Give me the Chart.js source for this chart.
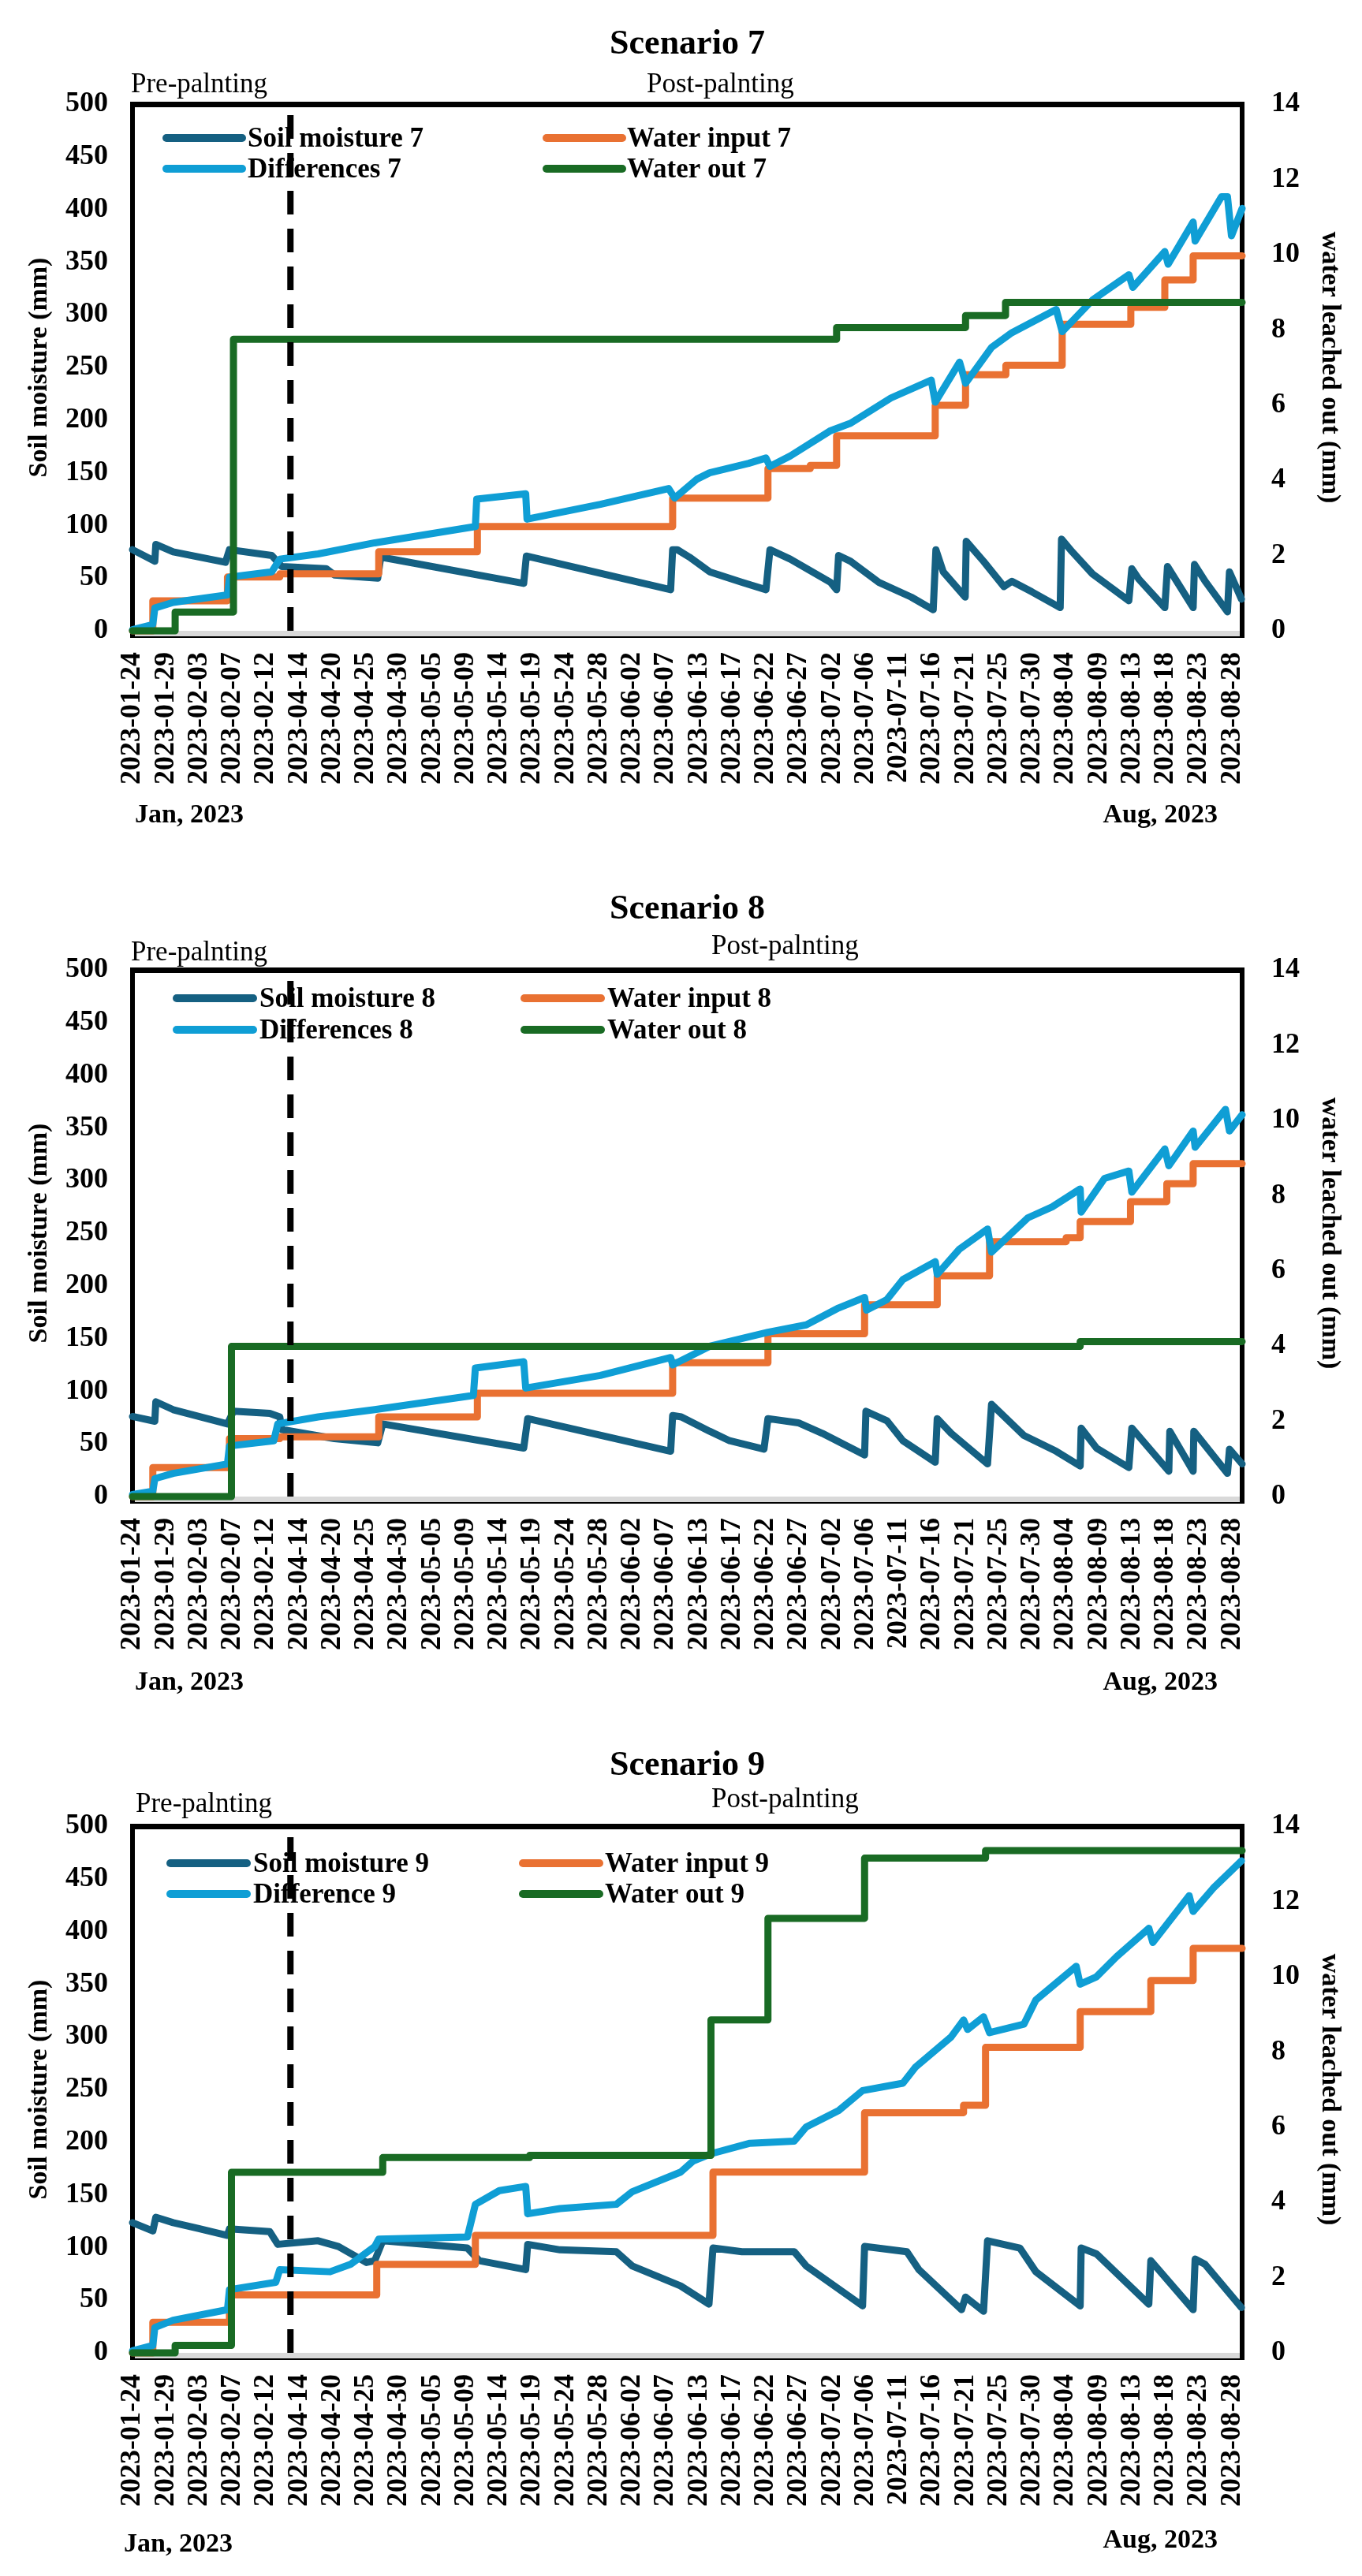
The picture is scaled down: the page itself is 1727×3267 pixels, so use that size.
<!DOCTYPE html>
<html>
<head>
<meta charset="utf-8">
<script src="https://cdn.jsdelivr.net/npm/chart.js@4.4.1/dist/chart.umd.min.js"></script>
<style>
  html, body { margin: 0; padding: 0; background: #fff; }
  .box { width: 1727px; position: relative; }
</style>
</head>
<body>
<div class="box" style="height:1092px"><canvas id="c7"></canvas></div>
<div class="box" style="height:1088px"><canvas id="c8"></canvas></div>
<div class="box" style="height:1087px"><canvas id="c9"></canvas></div>
<script>
// x values are positions on the date axis, in label steps (0 = 2023-01-24)
const dateLabels = ["2023-01-24","2023-01-29","2023-02-03","2023-02-07","2023-02-12",
  "2023-04-14","2023-04-20","2023-04-25","2023-04-30","2023-05-05","2023-05-09","2023-05-14",
  "2023-05-19","2023-05-24","2023-05-28","2023-06-02","2023-06-07","2023-06-13","2023-06-17",
  "2023-06-22","2023-06-27","2023-07-02","2023-07-06","2023-07-11","2023-07-16","2023-07-21",
  "2023-07-25","2023-07-30","2023-08-04","2023-08-09","2023-08-13","2023-08-18","2023-08-23",
  "2023-08-28"];
const xEnd = 33.3;
const plantingX = 4.74;
const leftTicks = [0, 500, 50];
const rightTicks = [0, 14, 2];

// Scenario 7
const soil7 = [[0,77],[0.67,66],[0.70,82],[1.22,75],[2.79,65],[2.91,77],[4.18,71.5],[4.48,61],[5.81,59],[6.06,53],[7.36,50],[7.45,70],[11.74,45],[11.82,71],[16.15,39],[16.21,77],[16.35,77],[16.71,70],[17.32,56],[18.29,46],[19.01,39],[19.13,77],[19.74,68],[20.95,46],[21.13,39],[21.19,71.5],[21.55,66],[22.40,46],[23.37,32],[24.03,20],[24.11,77],[24.33,56],[24.99,32],[25.02,85],[25.54,66],[26.15,42],[26.39,47],[26.99,37],[27.84,22],[27.88,87],[28.20,75],[28.81,54],[29.9,28.5],[29.99,59],[30.2,49],[30.98,22],[31.06,61],[31.83,22],[31.87,63],[32.19,47],[32.86,18],[32.92,56],[33.28,30]];
const input7 = [[0,0],[0.61,28.5],[2.85,51],[4.42,54],[7.39,75],[10.35,99],[16.21,126],[19.07,154],[20.34,157],[21.13,185],[24.09,214],[25.0,243],[26.21,252],[27.9,291],[29.96,307],[30.98,333],[31.83,356],[33.3,356]];
const diff7 = [[0,1],[0.61,6],[0.67,21.6],[1.22,27],[2.85,34],[2.91,51],[4.18,56],[4.42,68],[5.57,73],[7.27,83.5],[10.29,99],[10.33,125],[11.8,130],[11.84,106],[14.04,120],[16.09,135],[16.27,126],[16.94,144],[17.32,150],[18.49,159],[19.01,164],[19.13,156],[19.74,166],[20.95,190],[21.55,197],[22.76,221],[23.97,238],[24.09,217],[24.82,255],[25.0,235],[25.78,269],[26.39,283],[27.72,305],[27.9,284],[28.81,314],[29.9,338],[30.02,326],[30.98,360],[31.08,348],[31.83,388],[31.89,370],[32.68,412],[32.86,412],[32.98,375],[33.3,401]];
const out7 = [[0,0],[1.28,0.5],[3.03,7.75],[21.13,8.06],[25.0,8.38],[26.2,8.73],[33.3,8.73]];

// Scenario 8
const soil8 = [[0,76],[0.67,71.5],[0.70,90],[1.22,82.5],[2.85,69],[3.03,81],[4.12,79],[4.42,75.6],[4.48,63.6],[6.06,55],[7.36,51],[7.51,69],[11.74,46],[11.86,74],[16.15,43],[16.21,77],[16.47,75.6],[17.32,62],[17.92,53],[18.95,45],[19.07,74],[19.98,70],[20.7,60],[21.97,39.5],[22.01,81],[22.64,72],[23.12,53],[24.09,32.6],[24.15,74],[24.57,60],[25.66,31],[25.78,87.6],[26.75,58],[27.72,43],[28.44,29],[28.47,65],[28.93,46],[29.9,27.5],[29.99,65],[31.1,24],[31.13,62],[31.83,24],[31.85,62],[32.86,22],[32.92,45],[33.3,31]];
const input8 = [[0,0],[0.61,27.5],[2.91,55],[4.42,56.7],[7.39,75.6],[10.35,98],[16.21,127],[19.07,154.6],[21.97,182],[24.15,209.6],[25.72,242],[28.02,245.7],[28.44,261],[29.95,280],[31.04,297],[31.83,316],[33.3,316]];
const diff8 = [[0,2],[0.61,5],[0.67,17],[1.22,22],[2.85,31],[2.91,48],[4.24,53],[4.36,69],[5.57,75.6],[7.27,82.5],[10.23,96],[10.29,122],[11.74,128],[11.80,103],[14.04,115],[16.15,132],[16.21,125],[17.32,142.6],[19.07,156],[20.22,163],[21.19,179],[21.97,189],[22.03,177],[22.64,187],[23.12,206],[24.09,223],[24.15,211],[24.82,235],[25.66,254],[25.78,232],[26.87,264.6],[27.6,275],[28.44,292],[28.47,270],[29.17,302],[29.9,309],[29.99,289],[30.98,330],[31.1,314],[31.83,347],[31.89,331.6],[32.8,367.6],[32.92,347],[33.3,362.5]];
const out8 = [[0,0],[2.97,3.99],[28.44,4.12],[33.3,4.12]];

// Scenario 9
const soil9 = [[0,123.6],[0.61,115.7],[0.70,128.7],[1.22,123.6],[1.94,118.4],[2.85,111.5],[2.91,117.7],[4.12,115],[4.36,103],[5.57,106.4],[6.18,101],[7.02,85.8],[7.27,87.5],[7.51,106.4],[10.05,99.5],[10.41,87.5],[11.8,79],[11.86,103],[12.83,97.8],[14.52,96],[15.0,82.4],[16.45,63.5],[17.3,46.3],[17.42,99.5],[18.29,96],[19.86,96],[20.22,82.4],[21.91,44.6],[21.97,101],[23.24,96],[23.6,79],[24.88,41],[25.0,53],[25.54,39.5],[25.66,106.4],[26.63,99.5],[27.11,77],[28.44,44.6],[28.47,99.5],[28.93,94],[30.5,46.3],[30.56,87.5],[31.83,41],[31.89,89],[32.19,84],[33.28,43]];
const input9 = [[0,0],[0.61,29],[2.91,55],[7.33,84],[10.29,111.5],[17.42,171.6],[21.97,228],[24.94,235],[25.6,290],[28.44,324],[30.56,353.5],[31.83,384],[33.3,384]];
const diff9 = [[0,2],[0.61,7],[0.67,24],[1.22,31],[2.85,41],[2.91,60],[4.3,67],[4.42,79],[5.93,77],[6.54,84],[7.27,101],[7.39,108],[10.05,110],[10.29,141],[11.01,154],[11.8,158],[11.86,132],[12.83,137],[14.52,141],[15.0,153],[16.45,171.6],[16.82,182],[17.36,189],[18.53,199],[19.86,201],[20.22,214.5],[21.19,230],[21.91,249],[23.12,256],[23.49,271],[24.57,300],[24.94,316],[25.06,307],[25.54,319],[25.72,304],[26.75,312],[27.11,335],[28.32,367],[28.44,350],[28.93,357],[29.53,376],[30.5,403],[30.62,389.6],[31.71,434],[31.83,419],[32.43,441],[33.28,467]];
const out9 = [[0,0],[1.28,0.2],[2.97,4.8],[7.51,5.19],[11.92,5.25],[17.36,8.85],[19.07,11.55],[21.97,13.15],[25.6,13.35],[33.3,13.35]];

const FONT = '"Liberation Serif", "Times New Roman", serif';
const colors = { soil: '#156082', input: '#E97132', diff: '#0F9ED5', out: '#196B24' };
const PLOT_H = 668;

// frame, titles, legend and month notes
const decor = {
  id: 'decor',
  beforeDatasetsDraw(chart, args, o) {
    const { ctx, chartArea: a } = chart;
    const w = a.right - a.left;
    ctx.save();
    ctx.fillStyle = '#d9d9d9';
    ctx.fillRect(a.left, a.bottom, w, 7);
    ctx.fillStyle = '#000';
    ctx.fillRect(a.left, a.bottom + 7, w, 2);
    ctx.fillRect(a.left - 3, a.top - 3, w + 6, 7);
    ctx.fillRect(a.left - 3, a.top - 3, 6, a.bottom - a.top + 12);
    ctx.fillRect(a.right - 3, a.top - 3, 6, a.bottom - a.top + 12);
    ctx.restore();
  },
  afterDraw(chart, args, o) {
    const { ctx, chartArea: a } = chart;
    ctx.save();
    ctx.fillStyle = '#000';
    ctx.textBaseline = 'alphabetic';
    ctx.font = 'bold 44px ' + FONT;
    ctx.textAlign = 'center';
    ctx.fillText(o.title, (a.left + a.right) / 2, a.top + o.titleDy);

    ctx.font = '35px ' + FONT;
    ctx.textAlign = 'left';
    ctx.fillText('Pre-palnting', o.preX, a.top + o.preDy);
    ctx.fillText('Post-palnting', o.postX, a.top + o.postDy);

    ctx.font = 'bold 34px ' + FONT;
    ctx.fillText('Jan, 2023', o.janX, a.bottom + o.janDy);
    ctx.textAlign = 'right';
    ctx.fillText('Aug, 2023', o.augR, a.bottom + o.augDy);

    // legend, 2 x 2
    const items = chart.data.datasets.filter(d => d.label);
    ctx.font = 'bold 35px ' + FONT;
    ctx.textAlign = 'left';
    ctx.textBaseline = 'middle';
    ctx.lineCap = 'round';
    items.forEach((d, i) => {
      const row = Math.floor(i / 2), col = i % 2;
      const y = a.top + o.legRows[row];
      const [x0, x1, tx] = o.legCols[col];
      ctx.strokeStyle = d.borderColor;
      ctx.lineWidth = 10;
      ctx.beginPath();
      ctx.moveTo(x0, y);
      ctx.lineTo(x1, y);
      ctx.stroke();
      ctx.fillStyle = '#000';
      ctx.fillText(d.label, tx, y + 2);
    });
    ctx.restore();
  }
};

function lineSet(label, data, color, axis, order, stepped) {
  return {
    label, data, borderColor: color, backgroundColor: color,
    borderWidth: 9, pointRadius: 0, pointHoverRadius: 0, tension: 0,
    borderJoinStyle: 'round', borderCapStyle: 'round',
    stepped: stepped ? 'before' : false, yAxisID: axis, order, clip: false
  };
}

function makeChart(id, series, names, lay) {
  const [soil, input, diff, out] = series;
  const xHeight = lay.canvasH - lay.top - PLOT_H;
  const tickFont = { family: FONT, size: 36, weight: 'bold' };
  new Chart(document.getElementById(id), {
    type: 'line',
    data: {
      datasets: [
        lineSet(names[0], soil, colors.soil, 'y', 4, false),
        lineSet(names[1], input, colors.input, 'y', 3, true),
        lineSet(names[2], diff, colors.diff, 'y', 2, false),
        lineSet(names[3], out, colors.out, 'y2', 1, true),
        {
          data: [[plantingX, 0], [plantingX, 490]], borderColor: '#000', borderWidth: 8,
          borderDash: [30, 18], pointRadius: 0, yAxisID: 'y', order: 0, clip: false
        }
      ]
    },
    options: {
      responsive: true,
      maintainAspectRatio: false,
      animation: false,
      devicePixelRatio: 1,
      layout: { padding: { top: lay.top, left: 0, right: 0, bottom: 0 } },
      plugins: {
        legend: { display: false },
        title: { display: false },
        tooltip: { enabled: false },
        decor: lay
      },
      scales: {
        x: {
          type: 'linear', min: 0, max: xEnd,
          grid: { display: false, drawTicks: false }, border: { display: false },
          afterBuildTicks: s => { s.ticks = dateLabels.map((_, i) => ({ value: i })); },
          afterFit: s => { s.height = xHeight; },
          ticks: {
            autoSkip: false, minRotation: 90, maxRotation: 90, padding: 27,
            color: '#000', font: tickFont, callback: v => dateLabels[v]
          }
        },
        y: {
          position: 'left', min: leftTicks[0], max: leftTicks[1],
          grid: { display: false, drawTicks: false }, border: { display: false },
          afterFit: s => { s.width = 168; },
          ticks: { stepSize: leftTicks[2], padding: 31, color: '#000', font: tickFont },
          title: {
            display: true, text: 'Soil moisture (mm)', color: '#000',
            font: { family: FONT, size: 34, weight: 'bold' }, padding: { top: 30, bottom: 0 }
          }
        },
        y2: {
          position: 'right', min: rightTicks[0], max: rightTicks[1],
          grid: { display: false, drawTicks: false }, border: { display: false },
          afterFit: s => { s.width = 152; },
          ticks: { stepSize: rightTicks[2], padding: 37, color: '#000', font: tickFont },
          title: {
            display: true, text: 'water leached out (mm)', color: '#000',
            font: { family: FONT, size: 34, weight: 'bold' }, padding: { top: 21, bottom: 0 }
          }
        }
      }
    },
    plugins: [decor]
  });
}

makeChart('c7', [soil7, input7, diff7, out7],
  ['Soil moisture 7', 'Water input 7', 'Differences 7', 'Water out 7'],
  { canvasH: 1092, top: 132, title: 'Scenario 7', titleDy: -64,
    preX: 166, preDy: -15, postX: 820, postDy: -15,
    legRows: [43, 82], legCols: [[211, 307, 314], [693, 789, 795]],
    janX: 171, janDy: 243, augR: 1544, augDy: 243 });

makeChart('c8', [soil8, input8, diff8, out8],
  ['Soil moisture 8', 'Water input 8', 'Differences 8', 'Water out 8'],
  { canvasH: 1088, top: 138, title: 'Scenario 8', titleDy: -65,
    preX: 166, preDy: -12, postX: 902, postDy: -20,
    legRows: [36, 76], legCols: [[224, 321, 329], [665, 762, 770]],
    janX: 171, janDy: 245, augR: 1544, augDy: 245 });

makeChart('c9', [soil9, input9, diff9, out9],
  ['Soil moisture 9', 'Water input 9', 'Difference 9', 'Water out 9'],
  { canvasH: 1087, top: 136, title: 'Scenario 9', titleDy: -65,
    preX: 172, preDy: -18, postX: 902, postDy: -24,
    legRows: [47, 86], legCols: [[216, 313, 321], [663, 760, 767]],
    janX: 157, janDy: 252, augR: 1544, augDy: 247 });
</script>
</body>
</html>
